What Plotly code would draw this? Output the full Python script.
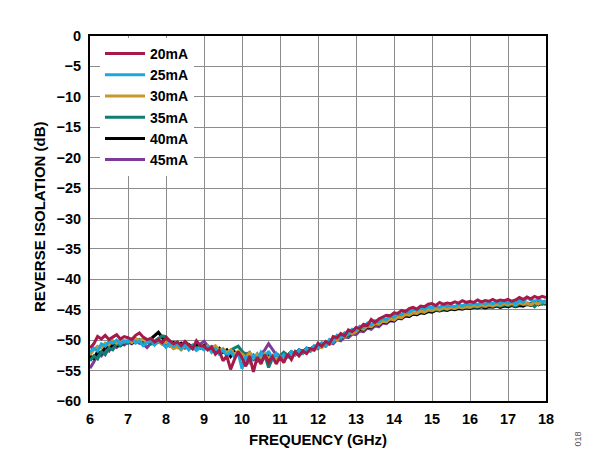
import plotly.graph_objects as go

FREQ_GHZ = [round(6 + 0.1 * i, 1) for i in range(121)]

ISO_20MA = [
    -51.3, -50.6, -49.4, -49.8, -49.2, -49.9, -49.5, -49.1, -49.8, -49.4,
    -49.6, -49.9, -49.2, -48.8, -49.5, -49.9, -49.7, -50.3, -49.9, -50.4,
    -49.6, -50.1, -50.6, -50.3, -50.9, -50.2, -50.8, -51.4, -50.1, -50.9,
    -51.0, -51.6, -51.1, -52.3, -51.7, -53.4, -52.6, -54.8, -53.2, -51.9,
    -52.9, -54.3, -52.6, -55.2, -52.8, -53.9, -52.4, -53.6, -52.7, -53.9,
    -52.8, -53.7, -52.3, -53.2, -51.9, -52.6, -51.8, -52.2, -51.4, -51.6,
    -50.5, -51.0, -50.2, -50.6, -49.4, -49.6, -48.9, -49.3, -48.3, -48.6,
    -47.9, -48.1, -47.4, -47.6, -46.6, -47.1, -46.5, -46.2, -45.9, -46.0,
    -45.5, -45.6, -45.1, -45.3, -44.8, -44.6, -44.9, -44.4, -44.5, -44.1,
    -44.0, -44.3, -43.8, -44.1, -43.9, -44.0, -43.7, -43.9, -43.5, -43.8,
    -43.6, -43.8, -43.4, -43.7, -43.5, -43.6, -43.3, -43.6, -43.4, -43.5,
    -43.3, -43.6, -43.4, -43.0, -43.3, -42.9, -43.2, -42.8, -43.1, -42.8,
    -43.0,
]
ISO_25MA = [
    -52.0, -51.3, -51.8, -50.6, -51.0, -50.2, -50.5, -50.0, -50.6, -50.1,
    -50.3, -49.8, -50.5, -50.2, -50.9, -50.4, -49.9, -50.8, -50.0, -50.5,
    -51.2, -50.4, -51.0, -50.6, -51.4, -50.8, -51.6, -51.0, -51.7, -51.2,
    -51.6, -51.0, -52.0, -51.4, -52.3, -51.6, -52.6, -51.9, -52.8, -52.1,
    -54.7, -52.6, -53.9, -52.4, -53.3, -52.0, -52.9, -51.8, -53.0, -52.2,
    -53.1, -52.4, -52.8, -51.9, -52.4, -51.6, -52.2, -51.3, -51.8, -50.9,
    -51.2, -50.4, -50.9, -49.9, -50.3, -49.2, -49.6, -48.8, -49.0, -48.2,
    -48.4, -47.7, -47.9, -47.2, -47.5, -46.8, -47.0, -46.4, -46.6, -46.0,
    -46.2, -45.6, -45.8, -45.2, -45.4, -44.9, -45.1, -44.7, -44.9, -44.5,
    -44.7, -44.4, -44.6, -44.2, -44.5, -44.3, -44.5, -44.1, -44.4, -44.0,
    -44.2, -43.9, -44.2, -43.8, -44.1, -43.8, -44.0, -43.7, -44.0, -43.6,
    -43.9, -43.7, -44.0, -43.5, -43.8, -43.0, -43.4, -43.6, -43.3, -43.7,
    -43.5,
]
ISO_30MA = [
    -52.4, -51.6, -51.0, -51.3, -50.5, -50.8, -50.1, -50.5, -49.9, -50.3,
    -50.0, -50.4, -49.7, -50.1, -49.8, -50.4, -50.0, -50.5, -50.2, -50.7,
    -50.3, -50.9, -51.4, -51.1, -51.6, -50.9, -51.4, -51.0, -51.6, -51.2,
    -51.5, -50.9, -51.3, -50.9, -51.7, -51.4, -52.1, -51.6, -52.3, -51.8,
    -52.3, -52.8, -52.1, -52.9, -52.3, -52.8, -52.2, -53.0, -52.5, -53.2,
    -52.6, -53.0, -52.4, -52.7, -52.1, -52.4, -51.8, -52.0, -51.5, -51.7,
    -51.0, -51.2, -50.5, -50.7, -49.9, -50.0, -49.3, -49.5, -48.8, -48.9,
    -48.6, -48.0, -48.2, -47.6, -47.8, -47.3, -47.4, -46.9, -47.0, -46.5,
    -46.7, -46.2, -46.3, -45.8, -45.9, -45.5, -45.6, -45.2, -45.4, -45.0,
    -45.1, -44.8, -45.0, -44.7, -44.9, -44.6, -44.8, -44.5, -44.7, -44.5,
    -44.6, -44.3, -44.5, -44.2, -44.4, -44.2, -44.4, -44.1, -44.3, -44.0,
    -44.2, -43.9, -44.2, -43.8, -44.1, -43.9, -44.2, -43.8, -44.1, -43.6,
    -43.9,
]
ISO_35MA = [
    -53.4, -52.6, -53.1, -51.9, -52.4, -51.3, -51.6, -50.6, -50.9, -50.3,
    -50.5, -50.0, -50.2, -49.9, -50.3, -50.1, -50.6, -50.2, -49.7, -49.3,
    -49.4, -50.2, -50.7, -50.4, -51.0, -50.6, -51.2, -50.8, -51.3, -51.0,
    -51.4, -51.1, -51.6, -51.2, -51.9, -51.5, -52.0, -51.6, -51.3, -51.0,
    -51.8, -52.4, -52.0, -53.1, -52.3, -53.6, -52.5, -54.5, -53.0, -52.2,
    -52.6, -52.0, -52.5, -51.9, -52.2, -51.7, -52.0, -51.4, -51.7, -51.1,
    -51.3, -50.7, -50.9, -50.2, -50.4, -49.7, -49.8, -49.1, -49.2, -48.6,
    -48.7, -48.1, -48.2, -47.6, -47.7, -47.2, -47.3, -46.8, -46.9, -46.4,
    -46.5, -46.1, -46.2, -45.7, -45.9, -45.5, -45.6, -45.3, -45.4, -45.1,
    -45.2, -45.0, -45.1, -44.8, -44.9, -44.7, -44.8, -44.6, -44.7, -44.5,
    -44.6, -44.5, -44.6, -44.4, -44.5, -44.3, -44.4, -44.3, -44.4, -44.2,
    -44.3, -44.2, -44.4, -44.1, -44.0, -44.2, -44.0, -44.5, -43.8, -44.1,
    -43.8,
]
ISO_40MA = [
    -52.6, -53.0, -51.9, -52.2, -51.0, -51.4, -50.6, -50.9, -50.9, -50.4,
    -50.2, -50.5, -50.0, -50.3, -49.9, -50.2, -49.8, -49.2, -48.7, -49.6,
    -50.3, -50.7, -50.4, -50.9, -50.5, -51.0, -50.7, -51.2, -50.8, -51.3,
    -50.9, -51.5, -51.1, -51.7, -51.3, -52.0, -51.6, -52.7, -51.9, -52.3,
    -52.1, -52.7, -52.3, -52.9, -53.4, -52.6, -53.0, -52.4, -52.9, -52.3,
    -52.7, -52.1, -52.5, -51.9, -52.2, -51.6, -51.9, -51.3, -51.5, -51.0,
    -51.1, -50.6, -50.7, -50.1, -50.2, -49.6, -49.7, -49.1, -49.2, -48.6,
    -48.7, -48.2, -48.3, -47.8, -47.9, -47.4, -47.5, -47.0, -47.1, -46.7,
    -46.8, -46.3, -46.4, -46.0, -46.1, -45.7, -45.8, -45.5, -45.6, -45.3,
    -45.4, -45.1, -45.2, -45.0, -45.1, -44.9, -45.0, -44.8, -44.9, -44.7,
    -44.8, -44.6, -44.7, -44.5, -44.7, -44.5, -44.6, -44.4, -44.6, -44.4,
    -44.5, -44.3, -44.5, -44.3, -44.4, -44.1, -44.3, -44.0, -44.2, -43.9,
    -44.1,
]
ISO_45MA = [
    -54.6, -53.6, -52.2, -52.6, -51.5, -51.8, -50.9, -51.2, -50.5, -50.8,
    -50.3, -50.6, -50.1, -50.5, -50.6, -51.2, -50.5, -50.7, -50.3, -50.6,
    -50.6, -51.0, -50.7, -51.2, -50.8, -51.3, -50.9, -51.4, -51.1, -50.6,
    -50.2, -51.0, -51.5, -51.3, -51.9, -51.6, -52.2, -51.8, -52.4, -52.0,
    -52.5, -52.2, -52.8, -52.4, -52.9, -52.3, -51.6, -50.6, -51.5, -52.4,
    -52.8, -52.3, -52.6, -52.0, -52.4, -51.8, -52.1, -51.5, -51.8, -51.2,
    -51.4, -50.8, -51.0, -50.4, -50.6, -49.9, -50.1, -49.5, -49.6, -49.0,
    -49.1, -48.5, -48.6, -48.0, -48.2, -47.6, -47.8, -47.2, -47.3, -46.8,
    -46.9, -46.4, -46.5, -46.0, -46.1, -45.7, -45.8, -45.4, -45.5, -45.2,
    -45.3, -45.0, -45.1, -44.8, -44.9, -44.7, -44.8, -44.6, -44.7, -44.5,
    -44.6, -44.4, -44.5, -44.3, -44.4, -44.3, -44.4, -44.2, -44.3, -44.1,
    -44.2, -44.1, -44.2, -44.0, -44.1, -43.9, -44.0, -43.8, -44.0, -43.7,
    -43.9,
]

SERIES_NAMES = ["20mA", "25mA", "30mA", "35mA", "40mA", "45mA"]
SERIES_VALUES = [ISO_20MA, ISO_25MA, ISO_30MA, ISO_35MA, ISO_40MA, ISO_45MA]
SERIES_COLORS = ["#A51A4A", "#1BA8DC", "#C9962C", "#0F7D72", "#000000", "#7D3C98"]

X_TITLE = "FREQUENCY (GHz)"
Y_TITLE = "REVERSE ISOLATION (dB)"
WATERMARK = "018"

FONT = "Liberation Sans, Arial, sans-serif"

fig = go.Figure()
# draw 45mA first so 20mA sits on top
for rank in range(len(SERIES_NAMES) - 1, -1, -1):
    fig.add_trace(go.Scatter(
        x=FREQ_GHZ, y=SERIES_VALUES[rank], name=SERIES_NAMES[rank],
        mode="lines", line=dict(color=SERIES_COLORS[rank], width=3),
        legendrank=rank + 1,
    ))

W, H = 602, 450
L, R, T, B = 90, 56, 36, 49
pw, ph = W - L - R, H - T - B

def px_x(px):
    return (px - L) / pw

def px_y(py):
    return 1 - (py - T) / ph

axis_common = dict(
    showgrid=True, gridcolor="#8c8c8c", gridwidth=1.4,
    showline=True, linecolor="#000000", linewidth=2, mirror=True,
    ticks="", zeroline=False,
    tickfont=dict(family=FONT, size=14.5, color="#000000", weight="bold"),
)

fig.update_layout(
    width=W, height=H,
    margin=dict(l=L, r=R, t=T, b=B, autoexpand=False),
    paper_bgcolor="#ffffff", plot_bgcolor="#ffffff",
    showlegend=True,
    legend=dict(
        x=px_x(100), y=px_y(38), xanchor="left", yanchor="top",
        bgcolor="#ffffff", borderwidth=0, itemwidth=40,
        font=dict(family=FONT, size=14, color="#000000", weight="bold"),
    ),
    xaxis=dict(range=[6, 18], dtick=1, tick0=6, ticklabelstandoff=4, **axis_common),
    yaxis=dict(range=[-60, 0], dtick=5, tick0=0, ticklabelstandoff=4, **axis_common),
    annotations=[
        dict(text=X_TITLE, xref="paper", yref="paper", x=0.5, y=px_y(440),
             xanchor="center", yanchor="middle", showarrow=False,
             font=dict(family=FONT, size=15, color="#000000", weight="bold")),
        dict(text=Y_TITLE, xref="paper", yref="paper", x=px_x(39), y=px_y(217),
             xanchor="center", yanchor="middle", showarrow=False, textangle=-90,
             font=dict(family=FONT, size=15, color="#000000", weight="bold")),
        dict(text=WATERMARK, xref="paper", yref="paper", x=px_x(578), y=px_y(449),
             xanchor="center", yanchor="bottom", showarrow=False, textangle=-90,
             font=dict(family=FONT, size=9, color="#555555")),
    ],
)

fig.write_html("out.html")
